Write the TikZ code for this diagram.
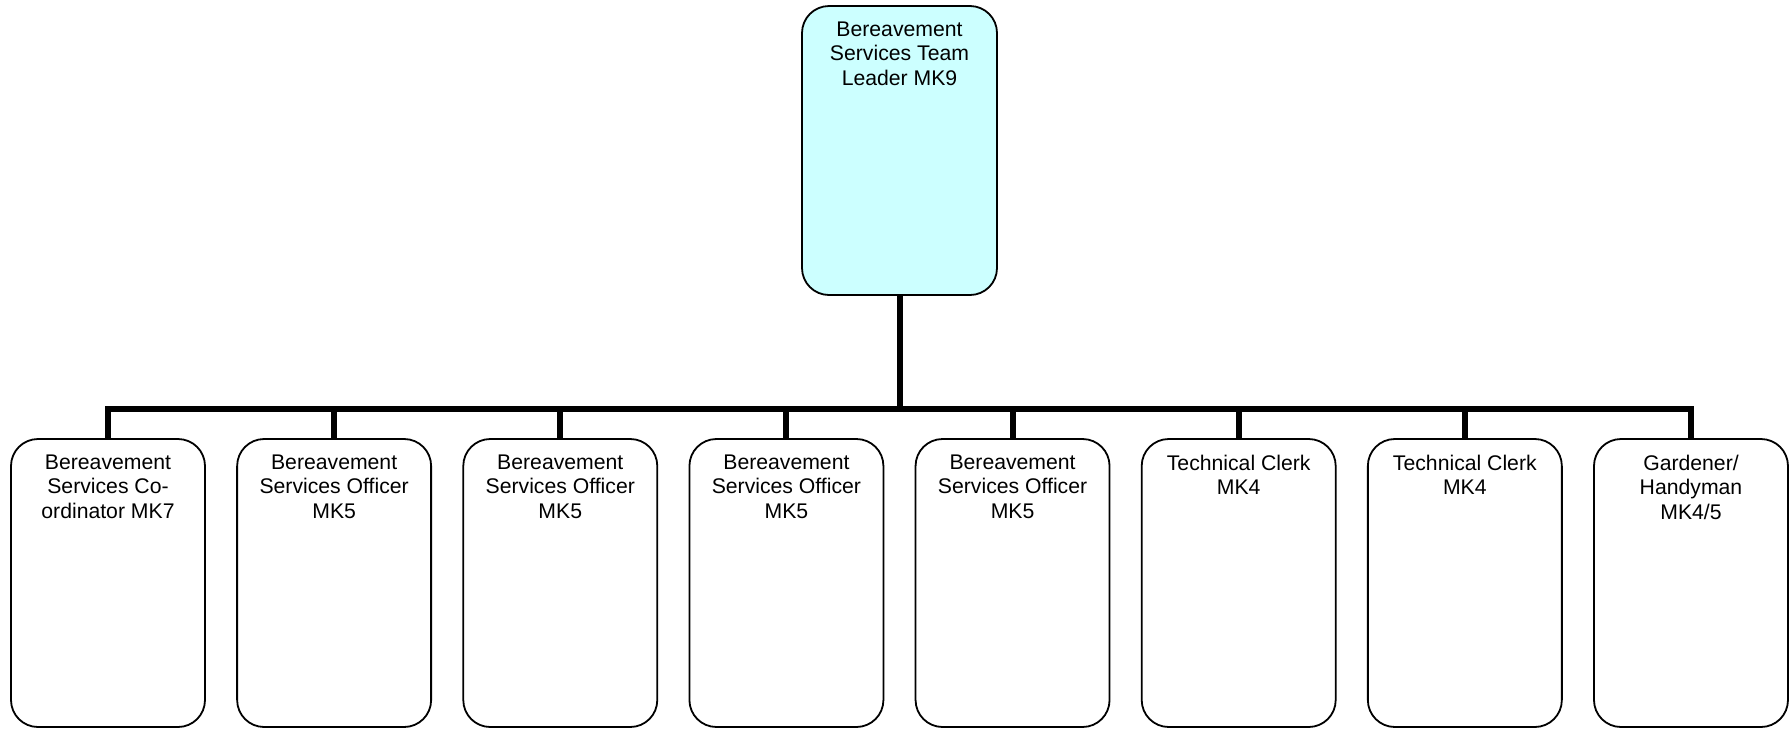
\documentclass[tikz,border=0pt]{standalone}
\usepackage{fontspec}
\setmainfont{Liberation Sans}
\begin{document}
\begin{tikzpicture}[x=1pt,y=-1pt,
  box/.style={draw=black, line width=1.8pt, rounded corners=27pt, fill=white,
              minimum width=194pt, minimum height=288pt, inner sep=0pt},
  topbox/.style={box, fill=cyan!20, minimum width=195pt, minimum height=289pt},
  lbl/.style={anchor=north, inner sep=0pt, align=center,
              font=\fontsize{21.2}{24.6}\selectfont},
  conn/.style={draw=black, line width=6pt}]
\useasboundingbox (0,0) rectangle (1791,729);
\definecolor{leadcyan}{HTML}{CCFFFF}
\node[topbox, fill=leadcyan] (top) at (899.5,150.5) {};
\node[lbl] (topt) at ([yshift=-16.5pt]top.north) {Bereavement\\Services Team\\Leader MK9};
\coordinate (bus) at (899.5,409);
\foreach \i/\t in {0/{Bereavement\\Services Co-\\ordinator MK7},
                   1/{Bereavement\\Services Officer\\MK5},
                   2/{Bereavement\\Services Officer\\MK5},
                   3/{Bereavement\\Services Officer\\MK5},
                   4/{Bereavement\\Services Officer\\MK5},
                   5/{Technical Clerk\\MK4},
                   6/{Technical Clerk\\MK4},
                   7/{Gardener/\\Handyman\\MK4/5}}{
  \node[box] (b\i) at (108+226.14*\i,583) {};
  \node[lbl] (bt\i) at ([yshift=-16.5pt]b\i.north) {\t};
}
\foreach \i in {0,...,7}{
  \draw[conn] (top.south) -- (top.south |- bus) -| (b\i.north);
}
\end{tikzpicture}
\end{document}
